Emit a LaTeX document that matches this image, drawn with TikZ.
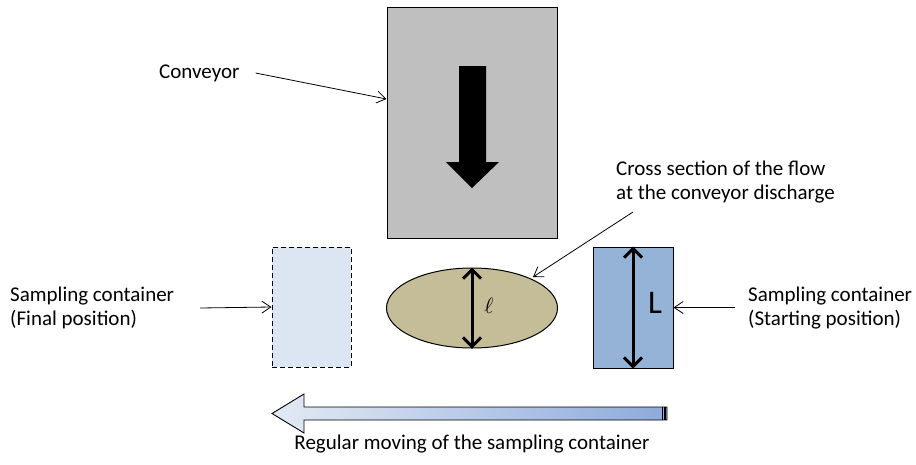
\documentclass[tikz,border=0pt]{standalone}
\usepackage{fontspec}
\setmainfont{Carlito}
\usetikzlibrary{arrows.meta,calc,shapes.geometric}
\definecolor{convgray}{HTML}{BFBFBF}
\definecolor{flowtan}{HTML}{C4BD97}
\definecolor{boxblue}{HTML}{95B3D7}
\definecolor{paleblue}{HTML}{DCE6F2}
\definecolor{gradL}{HTML}{E2EAF4}
\definecolor{gradR}{HTML}{8EAADB}
\tikzset{
  lbl/.style={font=\fontsize{21}{24}\selectfont, inner sep=0pt, align=left},
  pointer/.style={draw=black, line width=0.8pt, -{Straight Barb[length=9pt,width=12pt,line width=0.8pt]}},
  dim/.style={draw=black, line width=3pt, {Straight Barb[length=9pt,width=18pt]}-{Straight Barb[length=9pt,width=18pt]}},
  shapebox/.style={draw=black, line width=1pt, inner sep=0pt}
}
\begin{document}
\begin{tikzpicture}[x=1pt,y=-1pt]
\useasboundingbox (0,0) rectangle (916,464);
% conveyor
\node[shapebox, fill=convgray, minimum width=170pt, minimum height=231pt] (conv) at (472,122.5) {};
\fill[black] (459,66) -- (486,66) -- (486,162) -- (499,162) -- (472,188) -- (446,162) -- (459,162) -- cycle;
% cross section
\node[shapebox, ellipse, fill=flowtan, minimum width=171pt, minimum height=80pt] (flow) at (472,308) {};
\draw[dim] (flow.north) -- (flow.south);
\node[inner sep=0pt] (ell) at (489,306) {\scalebox{2.2}{$\ell$}};
% starting container
\node[shapebox, fill=boxblue, minimum width=80pt, minimum height=121pt] (start) at (633,307.5) {};
\draw[dim] (start.north) -- (start.south);
\node[font=\fontsize{33}{36}\selectfont, inner sep=0pt] (Lbl) at (655,303) {L};
% final container
\node[draw=black, dashed, line width=1pt, dash pattern=on 5pt off 3pt, fill=paleblue, minimum width=79pt, minimum height=120pt, inner sep=0pt] (final) at (311.5,307) {};
% moving arrow
\shade[left color=gradL, right color=gradR, draw=black, line width=0.9pt]
  (272,413.5) -- (304,394) -- (304,407) -- (667,407) -- (667,420) -- (304,420) -- (304,433) -- cycle;
\draw[line width=1pt] (662.5,407) -- (662.5,420);
\draw[line width=1.2pt] (665,407) -- (665,420);
\node[lbl, anchor=center] (movetxt) at (472,444) {Regular moving of the sampling container};
% labels
\node[lbl, anchor=west] (convtxt) at (159,73) {Conveyor};
\coordinate (convhit) at (conv.west |- 0,99);
\draw[pointer] (convtxt.east) ++(16,0) -- (convhit);
\node[lbl, anchor=west] (flowtxt) at (616,182.5) {Cross section of the flow\\at the conveyor discharge};
\coordinate (flowtail) at (633,212);
\coordinate (flowhit) at (533,277);
\draw[pointer] (flowtail) -- (flowhit);
\node[lbl, anchor=west] (finaltxt) at (10,308) {Sampling container\\(Final position)};
\coordinate (finaltail) at (200,308);
\draw[pointer] (finaltail) -- (final.west);
\node[lbl, anchor=west] (starttxt) at (748,308) {Sampling container\\(Starting position)};
\coordinate (starttail) at (735,307.5);
\draw[pointer] (starttail) -- (start.east);
\end{tikzpicture}
\end{document}
